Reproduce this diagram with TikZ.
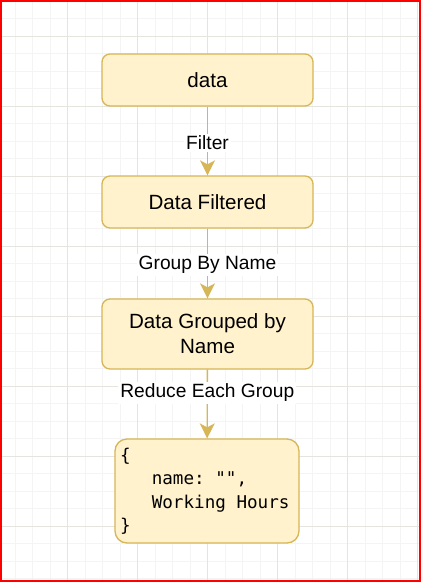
\documentclass[tikz,border=0pt]{standalone}
\usepackage{fontspec}
\setmainfont{Liberation Sans}
\newfontfamily\codefont{DejaVu Sans Mono}
\usetikzlibrary{arrows.meta}
\definecolor{boxfill}{HTML}{FFF2CC}
\definecolor{boxdraw}{HTML}{D6B656}
\definecolor{gridminor}{HTML}{F4F4F4}
\definecolor{gridmajor}{HTML}{E6E4DF}
\newcommand{\codesp}{\phantom{x}}
\tikzset{
  flowbox/.style={draw=boxdraw, fill=boxfill, line width=1.3pt, rounded corners=8pt,
    minimum width=211pt, minimum height=52pt, inner sep=0pt, align=center,
    font=\fontsize{20.6}{25}\selectfont},
  flowarrow/.style={draw=boxdraw, line width=1.3pt,
    -{Stealth[length=15pt, width=15pt, inset=4pt]}},
  edgelabel/.style={fill=white, inner sep=2pt, text=black,
    font=\fontsize{19.2}{22}\selectfont}
}
\begin{document}
\begin{tikzpicture}[x=1pt,y=-1pt]
\useasboundingbox (0,0) rectangle (421,582);
\fill[white] (0,0) rectangle (421,582);
% grid
\foreach \i in {0,...,24} {
  \draw[gridminor, line width=0.8pt] ({-2.3+17.5*\i},0) -- ({-2.3+17.5*\i},582);
}
\foreach \j in {0,...,33} {
  \draw[gridminor, line width=0.8pt] (0,{1+17.5*\j}) -- (421,{1+17.5*\j});
}
\foreach \i in {0,...,6} {
  \draw[gridmajor, line width=0.9pt] ({-2.3+70*\i},0) -- ({-2.3+70*\i},582);
}
\foreach \j in {0,...,8} {
  \draw[gridmajor, line width=0.9pt] (0,{-34+70*\j}) -- (421,{-34+70*\j});
}
% nodes
\node[flowbox] (data) at (207.5,80) {data};
\node[flowbox] (filtered) at (207.5,202) {Data Filtered};
\node[flowbox, minimum height=70pt] (grouped) at (207.5,334) {Data Grouped by\\Name};
\node[flowbox, rounded corners=12pt, minimum width=184pt, minimum height=104pt,
  text width=174pt, inner xsep=5pt, align=left,
  font=\codefont\fontsize{17.6}{23.5}\selectfont] (result) at (207,491)
  {\{\\\codesp\codesp\codesp name:\codesp"",\\\codesp\codesp\codesp Working\codesp Hours\\\}};
% connectors
\draw[flowarrow] (data) -- node[edgelabel, pos=0.53] {Filter} (filtered);
\draw[flowarrow] (filtered) -- node[edgelabel, pos=0.52] {Group By Name} (grouped);
\draw[flowarrow] (grouped) -- node[edgelabel, pos=0.34] {Reduce Each Group} (result);
% frame
\draw[red, line width=2pt] (1,1) rectangle (420,581);
\end{tikzpicture}
\end{document}
